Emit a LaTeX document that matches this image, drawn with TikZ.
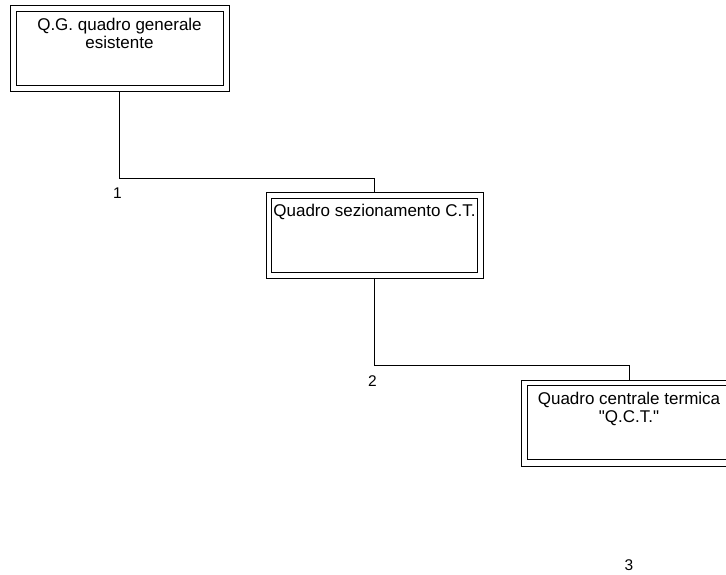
\documentclass[tikz,border=0pt]{standalone}
\usepackage{fontspec}
\setmainfont{Liberation Sans}[Ligatures=TeXOff]
\begin{document}
\begin{tikzpicture}[x=1pt,y=-1pt,
  quadro/.style={draw=black, line width=0.9pt, rectangle, inner sep=0pt,
    outer sep=0pt, minimum height=86pt},
  inner frame/.style={draw=black, line width=0.9pt},
  boxtext/.style={anchor=north, inner sep=0pt, align=center,
    font=\fontsize{17}{17.5}\selectfont},
  wire/.style={draw=black, line width=0.8pt},
  numlabel/.style={inner sep=0pt, font=\fontsize{15.5}{17}\selectfont}]
\useasboundingbox (0,0) rectangle (726,574);
\clip (0,0) rectangle (726,574);
% boxes (outer frames)
\node[quadro, minimum width=219pt] (b1) at (119.5,48) {};
\node[quadro, minimum width=217pt] (b2) at (374.5,235) {};
\node[quadro, minimum width=216pt] (b3) at (629,423) {};
% inner frames
\draw[inner frame] ([xshift=6pt,yshift=-6pt]b1.north west) rectangle ([xshift=-6pt,yshift=6pt]b1.south east);
\draw[inner frame] ([xshift=5.5pt,yshift=-6pt]b2.north west) rectangle ([xshift=-5.5pt,yshift=6pt]b2.south east);
\draw[inner frame] ([xshift=6pt,yshift=-5.5pt]b3.north west) rectangle ([xshift=-6pt,yshift=6.5pt]b3.south east);
% texts
\node[boxtext] (t1) at ([yshift=-13pt]b1.north) {Q.G. quadro generale\\esistente};
\node[boxtext] (t2) at ([yshift=-12pt]b2.north) {Quadro sezionamento C.T.};
\node[boxtext] (t3) at ([yshift=-12pt]b3.north) {Quadro centrale termica\\"Q.C.T."};
% junction levels
\coordinate (y1) at (0,178);
\coordinate (y2) at (0,365);
% connectors
\draw[wire] (b1.south) -- (b1.south |- y1) -| (b2.north);
\draw[wire] (b2.south) -- (b2.south |- y2) -| (b3.north);
% labels
\node[numlabel] (n1) at (117.5,193.5) {1};
\node[numlabel] (n2) at (372.5,381) {2};
\node[numlabel] (n3) at (629,565) {3};
\end{tikzpicture}
\end{document}
